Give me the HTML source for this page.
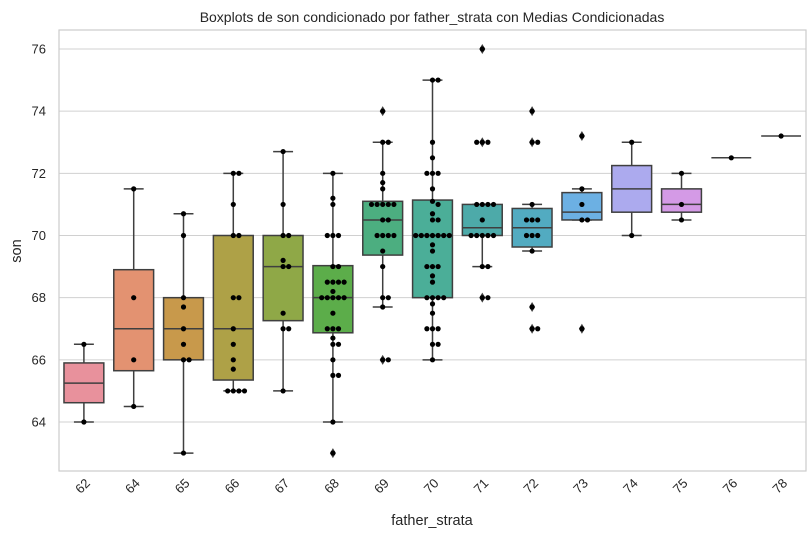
<!DOCTYPE html>
<html><head><meta charset="utf-8"><style>
body{margin:0;background:#fff;}
text{font-family:"Liberation Sans","DejaVu Sans",sans-serif;fill:#262626;}
</style></head><body>
<svg id="chart" width="812" height="537" viewBox="0 0 812 537" xmlns="http://www.w3.org/2000/svg">
<rect width="812" height="537" fill="#fff"/>
<text x="432" y="22" text-anchor="middle" font-size="14">Boxplots de son condicionado por father_strata con Medias Condicionadas</text>
<text x="432" y="525" text-anchor="middle" font-size="14.5">father_strata</text>
<text transform="translate(21,251) rotate(-90)" text-anchor="middle" font-size="14.5">son</text>
<g id="grid"></g><g id="boxes"></g><g id="pts"></g><g id="axes"></g>
</svg>
<script>
const categories=["62","64","65","66","67","68","69","70","71","72","73","74","75","76","78"];
const q1=[64.62,65.65,66,65.35,67.26,66.87,69.37,68,70,69.63,70.5,70.75,70.75,72.5,73.2];
const med=[65.25,67,67,67,69,68,70.5,70,70.25,70.25,70.75,71.5,71,72.5,73.2];
const q3=[65.9,68.9,68,70,70,69.03,71.1,71.14,71,70.87,71.38,72.25,71.5,72.5,73.2];
const whiskerLow=[64,64.5,63,65,65,64,67.7,66,69,69.5,70.5,70,70.5,72.5,73.2];
const whiskerHigh=[66.5,71.5,70.7,72,72.7,72,73,75,71,71,71.5,73,72,72.5,73.2];
const outliers=[[],[],[],[],[],[63],[74,66],[],[76,73,68],[74,73,67.7,67],[73.2,67],[],[],[],[]];
const points=[
[66.5,64],
[71.5,68,66,64.5],
[70.7,70,68,67.7,67,66.5,66,66,63],
[72,72,71,70,70,68,68,67,66.5,66,65.7,65,65,65,65],
[72.7,71,70,70,69.2,69,69,67.5,67,67,65],
[72,71.2,71,70,70,70,69,69,68.5,68.5,68.5,68.5,68.2,68,68,68,68,68,67.5,67,67,67,66.7,66.5,66.5,66,65.5,65.5,64,63],
[74,73,73,72,71.7,71.5,71,71,71,71,71,70.5,70.5,70,70,70,70,69.5,69,68,68,67.7,66,66],
[75,75,73,72.5,72,72,72,71.5,71.1,71,70.7,70.5,70.5,70,70,70,70,70,70,70,69.7,69.5,69,69,69,68.7,68.5,68,68,68,68,67.8,67.5,67,67,67,66.5,66.5,66],
[76,73,73,73,71,71,71,71,70.5,70,70,70,70,70,69,69,68,68],
[74,73,73,71,70.5,70.5,70.5,70,70,70,69.5,67.7,67,67],
[73.2,71.5,71,70.5,70.5,67],
[73,70],
[72,71,70.5],
[72.5],
[73.2]];
const colors=["#e8919c","#e39271","#c8994b","#aea147","#8fa847","#5cad4a","#4cae80","#4bae98","#4daaa9","#52abc1","#6cb0e3","#acaaee","#d49ae6","#e892d0","#e891b5"];
const L=59,R=806,T=30,B=471;
const bw=(R-L)/categories.length;
const xc=i=>L+bw*(i+0.5);
const y=v=>49+(76-v)*31.083;
const NS="http://www.w3.org/2000/svg";
function mk(tag,attrs,parent){const e=document.createElementNS(NS,tag);for(const k in attrs)e.setAttribute(k,attrs[k]);document.getElementById(parent).appendChild(e);return e;}
const yticks=[64,66,68,70,72,74,76];
yticks.forEach(t=>{
 const g=mk("line",{x1:L,x2:R,y1:y(t),y2:y(t),stroke:"#d0d0d0","stroke-width":1},"grid");
 
 
 const tx=mk("text",{x:L-13,y:y(t)+4.5,"text-anchor":"end","font-size":13},"axes");
 tx.textContent=t;
 
 
});
const fr=mk("rect",{x:L,y:T,width:R-L,height:B-T,fill:"none",stroke:"#cccccc","stroke-width":1.2},"axes");


categories.forEach((c,i)=>{
 const x=xc(i);
 const tx=mk("text",{transform:`translate(${x+7},${B+13}) rotate(-45)`,"text-anchor":"end","font-size":13},"axes");
 tx.textContent=c;
 
 
 const g=mk("g",{},"boxes");
 
 
 const w=bw*0.8, st={stroke:"#3f3f3f","stroke-width":1.5};
 const add=(t,a)=>{const e=document.createElementNS(NS,t);for(const k in a)e.setAttribute(k,a[k]);g.appendChild(e);return e;};
 if(q3[i]-q1[i]<0.01){
  add("line",Object.assign({x1:x-w/2,x2:x+w/2,y1:y(med[i]),y2:y(med[i])},st));
 } else {
  add("line",Object.assign({x1:x,x2:x,y1:y(whiskerHigh[i]),y2:y(q3[i])},st));
  add("line",Object.assign({x1:x,x2:x,y1:y(q1[i]),y2:y(whiskerLow[i])},st));
  add("line",Object.assign({x1:x-w/4,x2:x+w/4,y1:y(whiskerHigh[i]),y2:y(whiskerHigh[i])},st));
  add("line",Object.assign({x1:x-w/4,x2:x+w/4,y1:y(whiskerLow[i]),y2:y(whiskerLow[i])},st));
  add("rect",Object.assign({x:x-w/2,y:y(q3[i]),width:w,height:y(q1[i])-y(q3[i]),fill:colors[i]},st));
  add("line",Object.assign({x1:x-w/2,x2:x+w/2,y1:y(med[i]),y2:y(med[i])},st));
 }
 outliers[i].forEach(v=>{
  const d=add("path",{d:`M${x},${y(v)-5}L${x+3},${y(v)}L${x},${y(v)+5}L${x-3},${y(v)}Z`,fill:"#3f3f3f"});
  
  
 });
 const placed=[];
 points[i].forEach(v=>{
  const py=y(v);
  let off=0;
  for(let k=0;k<40;k++){
   const cand=k===0?0:(k%2?1:-1)*Math.ceil(k/2)*5.6;
   if(placed.every(p=>Math.hypot(p[0]-cand,p[1]-py)>=5.5)){off=cand;break;}
  }
  placed.push([off,py]);
  const cdot=mk("circle",{cx:x+off,cy:py,r:2.6,fill:"#000"},"pts");
  
  
 });
});
</script>
</body></html>
